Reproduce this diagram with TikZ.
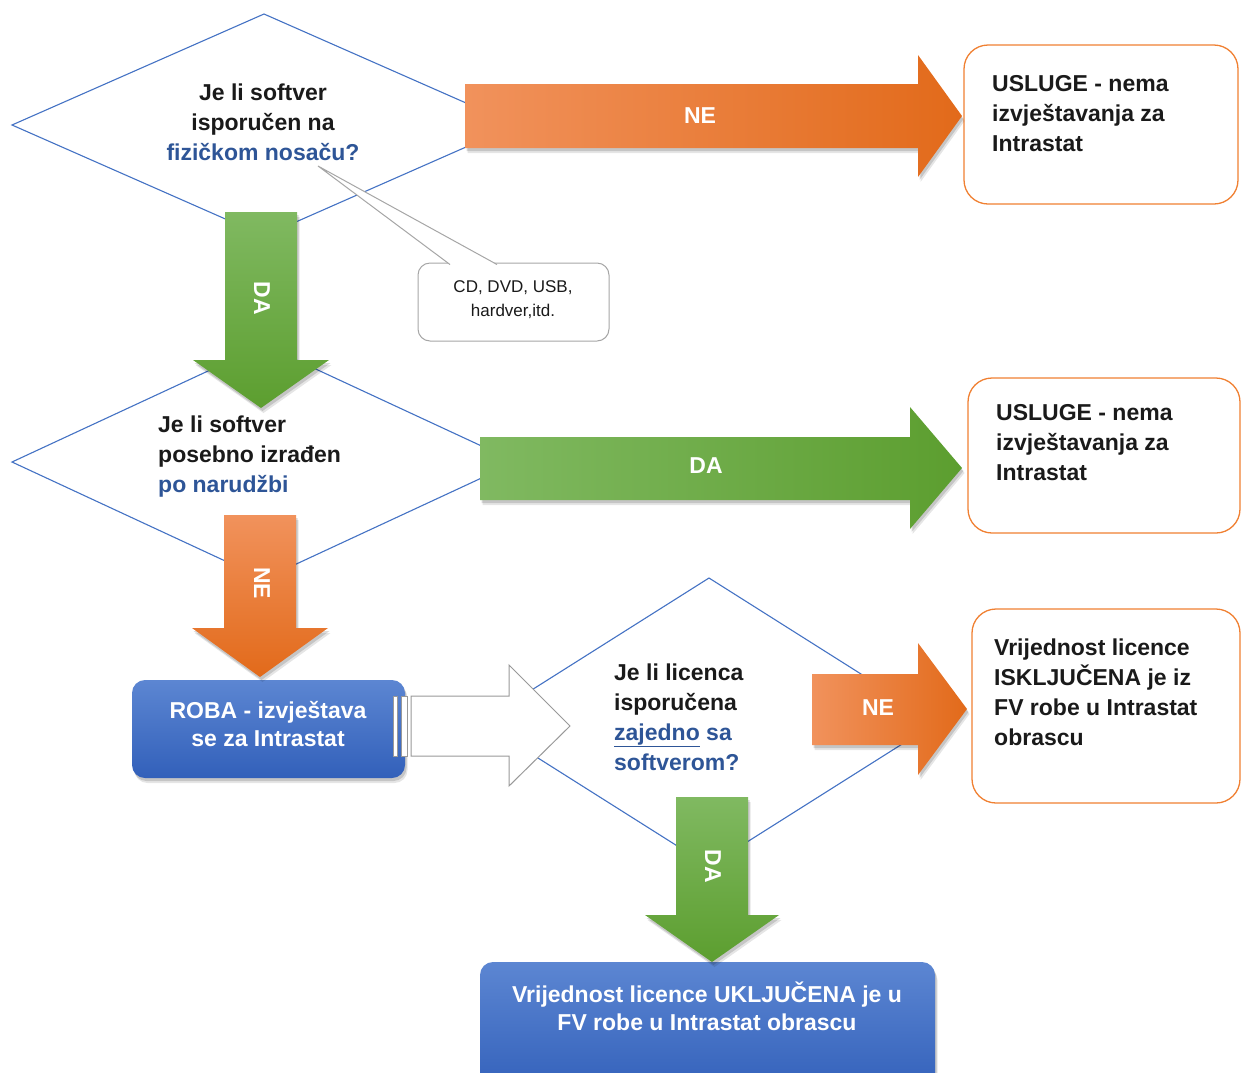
\documentclass[tikz,border=0pt]{standalone}
\usepackage{fontspec}
\setmainfont{Liberation Sans}
\usetikzlibrary{shadows}
\definecolor{dline}{RGB}{68,114,196}
\definecolor{qblue}{RGB}{46,85,151}
\definecolor{oL}{RGB}{241,146,92}
\definecolor{oR}{RGB}{226,106,26}
\definecolor{gL}{RGB}{128,185,97}
\definecolor{gR}{RGB}{92,158,47}
\definecolor{bT}{RGB}{92,134,210}
\definecolor{bB}{RGB}{50,96,186}
\definecolor{oborder}{RGB}{240,128,50}
\definecolor{txt}{RGB}{26,26,26}
\begin{document}
\begin{tikzpicture}[x=1pt,y=-1pt,
  diam/.style={draw=dline,line width=1.1pt,fill=white},
  shd/.style={drop shadow={shadow xshift=2.5pt,shadow yshift=-5pt,opacity=0.10,fill=black},
              drop shadow={shadow xshift=1.5pt,shadow yshift=-3pt,opacity=0.14,fill=black}},
  orH/.style={shd,left color=oL,right color=oR},
  orV/.style={shd,top color=oL,bottom color=oR},
  grH/.style={shd,left color=gL,right color=gR},
  grV/.style={shd,top color=gL,bottom color=gR},
  resbox/.style={draw=oborder,line width=1.3pt,fill=white,rounded corners=24pt},
  bluebox/.style={shd,top color=bT,bottom color=bB,rounded corners=13pt},
  qtext/.style={font=\fontsize{23}{30}\selectfont\bfseries,text=txt,inner sep=0pt},
  wlabel/.style={font=\fontsize{23}{28}\selectfont\bfseries,text=white,inner sep=0pt}
]
\useasboundingbox (0,0) rectangle (1242,1072);

% diamonds
\path[diam] (264,14) -- (516,125) -- (264,236) -- (12,125) -- cycle;
\path[diam] (264,345) -- (516,462) -- (264,579) -- (12,462) -- cycle;
\path[diam] (709,578) -- (937,722) -- (709,866) -- (481,722) -- cycle;

% question texts
\node[qtext,align=center] (q1) at (263,122) {Je li softver\\isporučen na\\\textcolor{qblue}{fizičkom nosaču?}};
\node[qtext,align=left,anchor=west] (q2) at (158,457) {Je li softver\\posebno izrađen\\\textcolor{qblue}{po narudžbi}};
\node[qtext,align=left,anchor=west] (q3) at (614,717) {Je li licenca\\isporučena\\\textcolor{qblue}{\underline{zajedno} sa}\\\textcolor{qblue}{softverom?}};

% callout
\path[draw=black!35,line width=1pt,fill=white,rounded corners=12pt]
  (418,263) rectangle (609,341);
\path[draw=black!35,line width=1pt,fill=white]
  (450,264.5) -- (318,166) -- (497,264.5);
\node[font=\fontsize{17}{24}\selectfont,text=txt,align=center,inner sep=0pt] (cb) at (513,300) {CD, DVD, USB,\\hardver,itd.};

% result boxes
\path[resbox] (964,45) rectangle (1238,204);
\node[qtext,align=left,anchor=west] (r1) at (992,114) {USLUGE - nema\\izvještavanja za\\Intrastat};
\path[resbox] (968,378) rectangle (1240,533);
\node[qtext,align=left,anchor=west] (r2) at (996,443) {USLUGE - nema\\izvještavanja za\\Intrastat};
\path[resbox] (972,609) rectangle (1240,803);
\node[qtext,align=left,anchor=west] (r3) at (994,692) {Vrijednost licence\\ISKLJUČENA je iz\\FV robe u Intrastat\\obrascu};

% blue boxes
\path[bluebox] (132,680) rectangle (405,778);
\node[wlabel,align=center] (roba) at (268,724) {ROBA - izvještava\\se za Intrastat};
\path[bluebox] (480,962) rectangle (935,1095);
\node[wlabel,align=center] (fin) at (707,1006) {Vrijednost licence UKLJUČENA je u\\FV robe u Intrastat obrascu};

% arrows
\path[orH] (465,84) -- (918,84) -- (918,55) -- (962,116) -- (918,177) -- (918,148) -- (465,148) -- cycle;
\node[wlabel] (ne1) at (700,116) {NE};

\path[grV] (225,212) -- (297,212) -- (297,360) -- (329,360) -- (261,408) -- (193,360) -- (225,360) -- cycle;
\node[wlabel,rotate=-90] (da1) at (262,298) {DA};

\path[grH] (480,437) -- (910,437) -- (910,407) -- (962,468) -- (910,529) -- (910,500) -- (480,500) -- cycle;
\node[wlabel] (da2) at (706,466) {DA};

\path[orV] (224,515) -- (296,515) -- (296,628) -- (328,628) -- (260,677) -- (192,628) -- (224,628) -- cycle;
\node[wlabel,rotate=-90] (ne2) at (262,583) {NE};

\path[orH] (812,674) -- (918,674) -- (918,643) -- (967,709) -- (918,775) -- (918,745) -- (812,745) -- cycle;
\node[wlabel] (ne3) at (878,708) {NE};

\path[grV] (676,797) -- (748,797) -- (748,915) -- (779,915) -- (712,962) -- (645,915) -- (676,915) -- cycle;
\node[wlabel,rotate=-90] (da3) at (713,866) {DA};

% white striped arrow
\path[draw=black!40,line width=1pt,fill=white]
  (411,696) -- (509,696) -- (509,665) -- (570,726) -- (509,786) -- (509,756) -- (411,756) -- cycle;
\path[draw=black!40,line width=0.9pt,fill=white] (393,696) rectangle (397,756);
\path[draw=black!40,line width=0.9pt,fill=white] (401,696) rectangle (407,756);
\end{tikzpicture}
\end{document}
